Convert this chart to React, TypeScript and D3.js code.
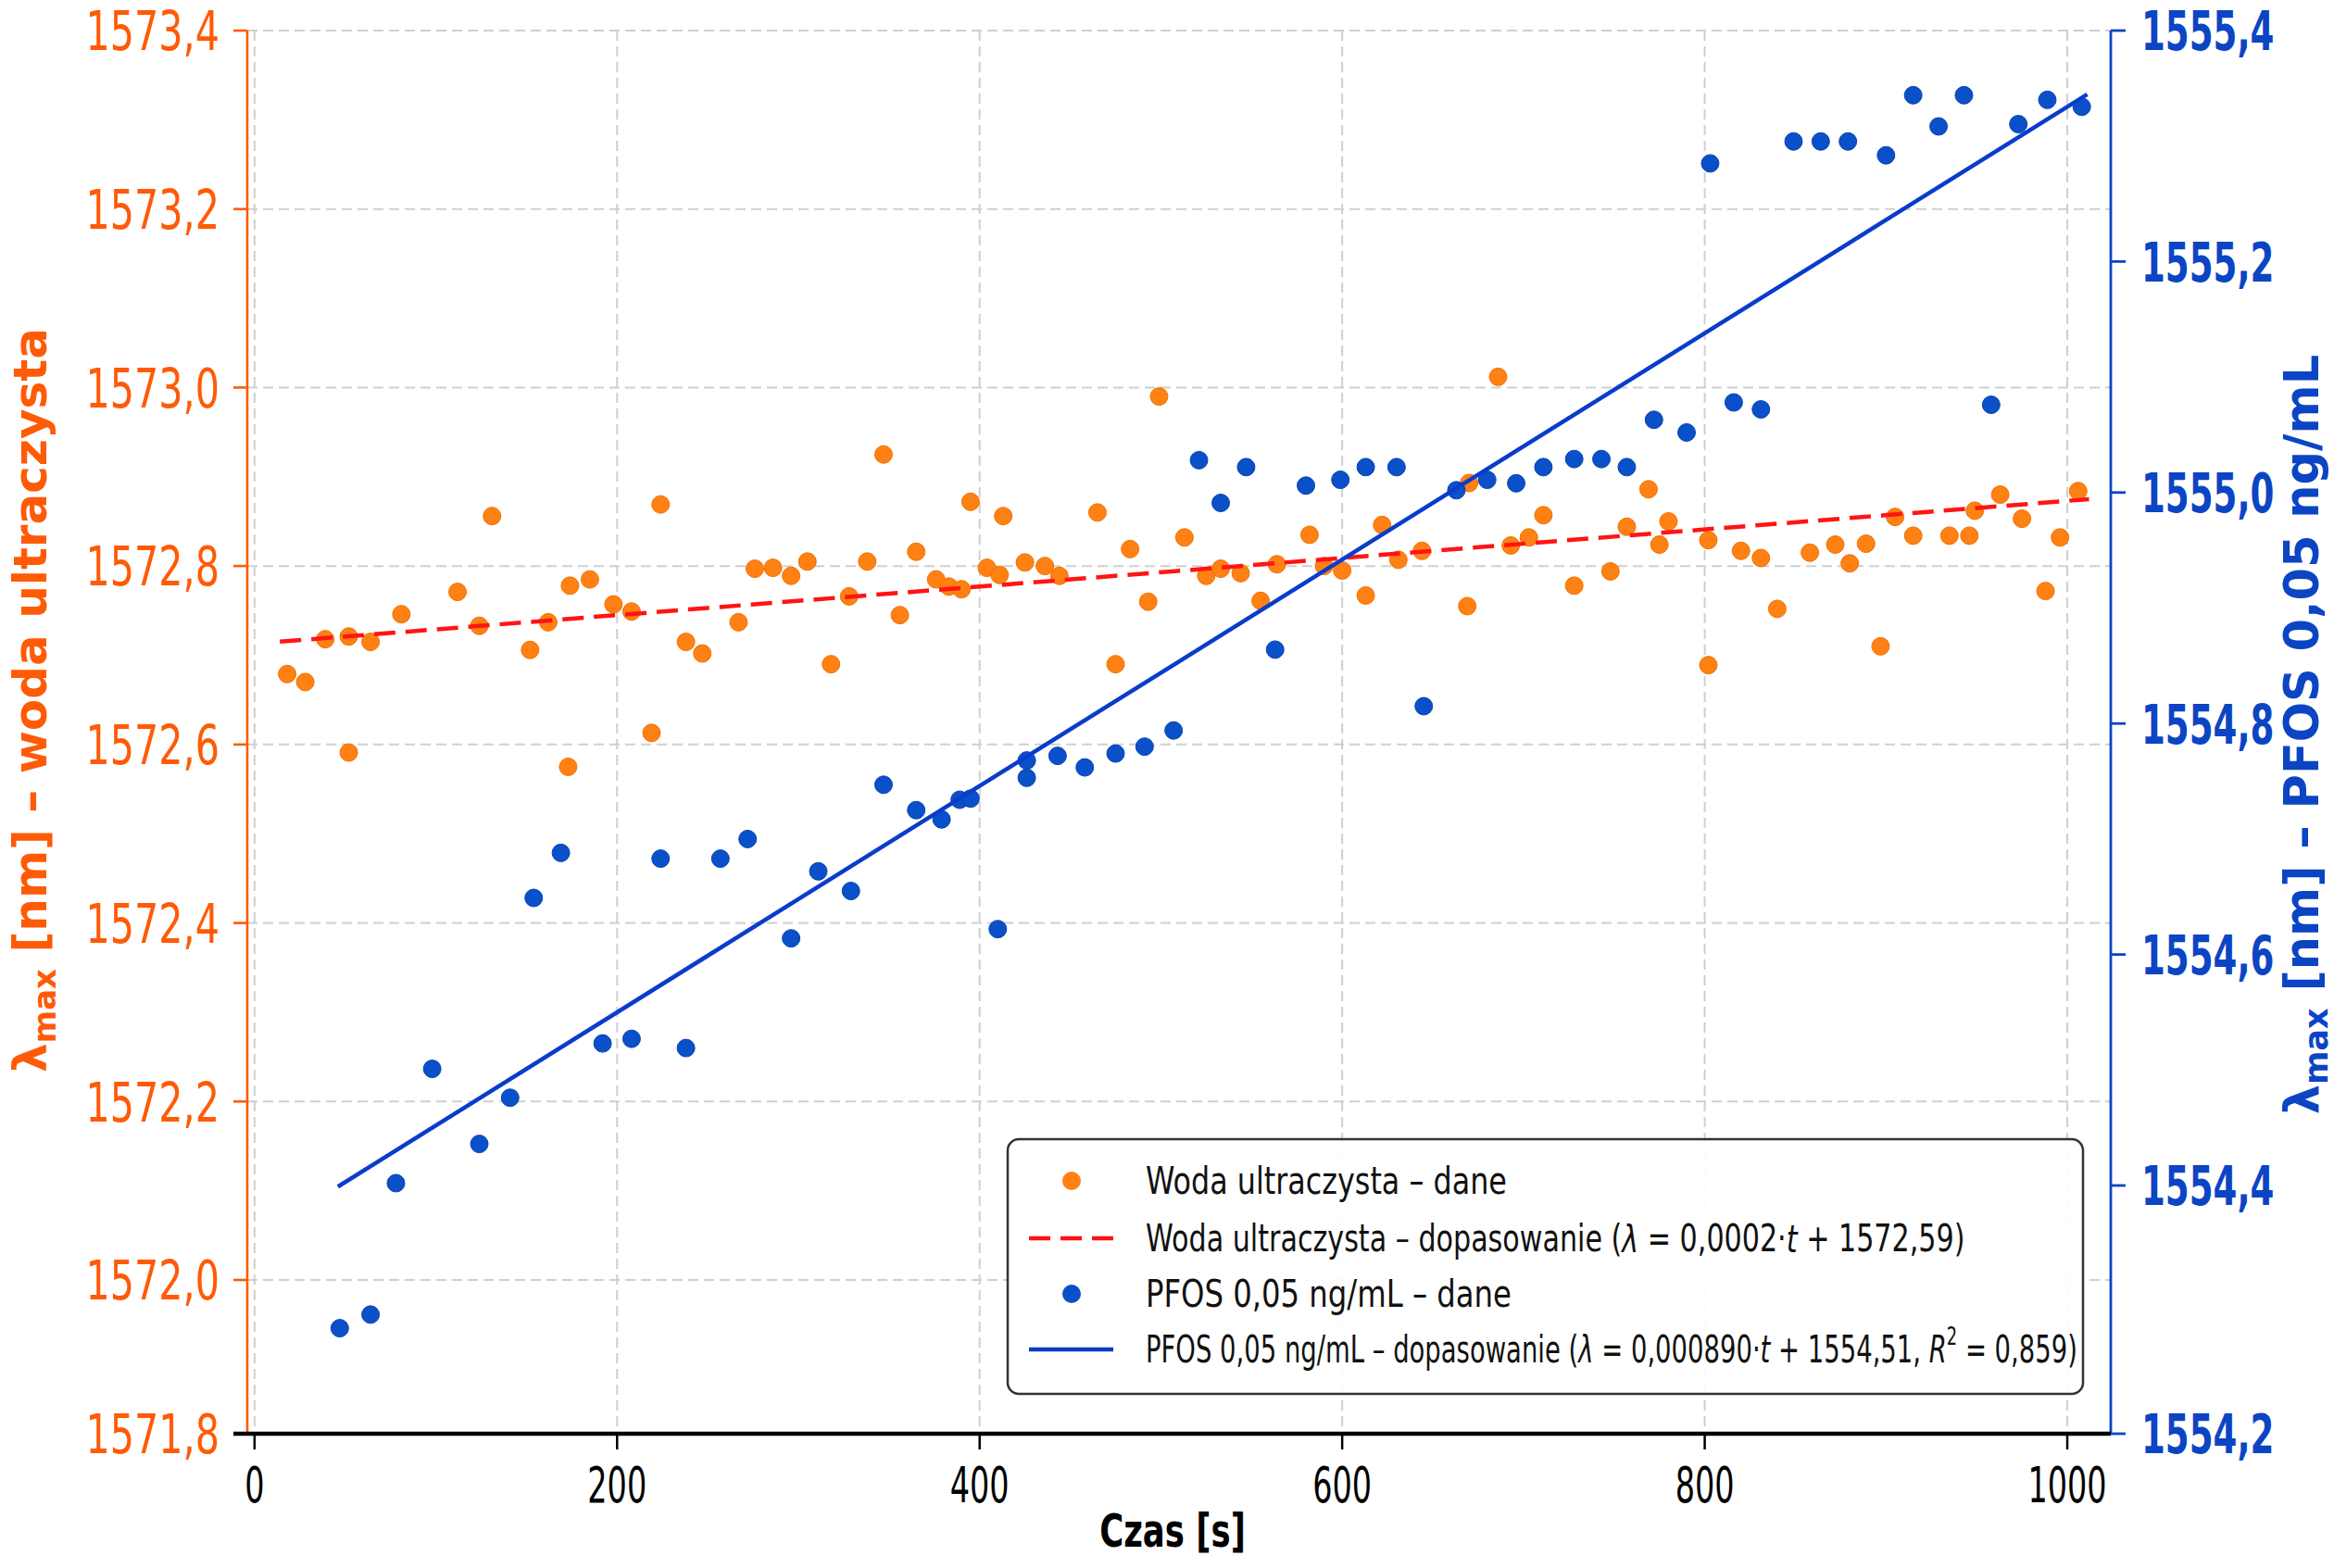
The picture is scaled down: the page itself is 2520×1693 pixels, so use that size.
import {useLayoutEffect, useRef, useState} from "react";
import * as d3 from "d3";

// czas [s] i lambda_max [nm] – woda ultraczysta
const waterTime = [18, 28, 39, 52, 52, 64, 81, 112, 124, 131, 152, 162, 173, 174, 185, 198, 208, 219, 224, 238, 247,
  267, 276, 286, 296, 305, 318, 328, 338, 347, 356, 365, 376, 383, 390, 395, 404, 411, 413, 425, 436, 444, 465, 475,
  483, 493, 499, 513, 525, 533, 544, 555, 564, 582, 590, 600, 613, 622, 631, 644, 669, 670, 686, 693, 703, 711, 728,
  748, 757, 769, 775, 780, 802, 802, 820, 831, 840, 858, 872, 880, 889, 897, 905, 915, 935, 946, 949, 963, 975, 988,
  996, 1006];
const waterLambda = [1572.679, 1572.670, 1572.718, 1572.721, 1572.591, 1572.715, 1572.746, 1572.771, 1572.733,
  1572.856, 1572.706, 1572.737, 1572.575, 1572.778, 1572.785, 1572.757, 1572.749, 1572.613, 1572.869, 1572.715,
  1572.702, 1572.737, 1572.797, 1572.798, 1572.789, 1572.805, 1572.690, 1572.766, 1572.805, 1572.925, 1572.745,
  1572.816, 1572.785, 1572.777, 1572.774, 1572.872, 1572.798, 1572.790, 1572.856, 1572.804, 1572.800, 1572.789,
  1572.860, 1572.690, 1572.819, 1572.760, 1572.990, 1572.832, 1572.789, 1572.797, 1572.792, 1572.761, 1572.802,
  1572.835, 1572.800, 1572.795, 1572.767, 1572.846, 1572.807, 1572.817, 1572.755, 1572.893, 1573.012, 1572.823,
  1572.832, 1572.857, 1572.778, 1572.794, 1572.844, 1572.886, 1572.824, 1572.850, 1572.689, 1572.829, 1572.817,
  1572.809, 1572.752, 1572.815, 1572.824, 1572.803, 1572.825, 1572.710, 1572.855, 1572.834, 1572.834, 1572.834,
  1572.862, 1572.880, 1572.853, 1572.772, 1572.832, 1572.884];

// czas [s] i lambda_max [nm] – PFOS 0,05 ng/mL
const pfosTime = [47, 64, 78, 98, 124, 141, 154, 169, 192, 208, 224, 238, 257, 272, 296, 311, 329, 347, 365, 379,
  389, 395, 410, 426, 426, 443, 458, 475, 491, 507, 521, 533, 547, 563, 580, 599, 613, 630, 645, 663, 680, 696, 711,
  728, 743, 757, 772, 790, 803, 816, 831, 849, 864, 879, 900, 915, 929, 943, 958, 973, 989, 1008];
const pfosLambda = [1554.285, 1554.296, 1554.402, 1554.501, 1554.436, 1554.476, 1554.649, 1554.688, 1554.523,
  1554.527, 1554.683, 1554.519, 1554.683, 1554.700, 1554.614, 1554.672, 1554.655, 1554.747, 1554.725, 1554.717,
  1554.734, 1554.735, 1554.622, 1554.768, 1554.753, 1554.772, 1554.762, 1554.774, 1554.780, 1554.794, 1555.028,
  1554.991, 1555.022, 1554.864, 1555.006, 1555.011, 1555.022, 1555.022, 1554.815, 1555.002, 1555.011, 1555.008,
  1555.022, 1555.029, 1555.029, 1555.022, 1555.063, 1555.052, 1555.285, 1555.078, 1555.072, 1555.304, 1555.304,
  1555.304, 1555.292, 1555.344, 1555.317, 1555.344, 1555.076, 1555.319, 1555.340, 1555.334];

// proste dopasowania
const waterFitSlope = 0.00016;
const waterFitIntercept = 1572.713;
const waterFitSpan = [14, 1012];
const pfosFitSlope = 0.00098;
const pfosFitIntercept = 1554.354;
const pfosFitSpan = [46, 1011];

const timeTicks = [0, 200, 400, 600, 800, 1000];
const waterTicks = [1571.8, 1572.0, 1572.2, 1572.4, 1572.6, 1572.8, 1573.0, 1573.2, 1573.4];
const pfosTicks = [1554.2, 1554.4, 1554.6, 1554.8, 1555.0, 1555.2, 1555.4];

const ORANGE = "#ff5a06";
const BLUE = "#0b45c4";
const DOT_ORANGE = "#ff8113";
const DOT_BLUE = "#0a50c8";
const FONT = "'DejaVu Sans', sans-serif";

const fmt = (v: number) => v.toFixed(1).replace(".", ",");

// tekst zwężony w poziomie (oryginał ma wąski krój)
const Narrow = ({x, y, sx, anchor, children, ...rest}: any) => (
  <text transform={`translate(${x},${y}) scale(${sx},1)`} textAnchor={anchor || "start"}
    fontFamily={FONT} {...rest}>{children}</text>
);

// wiersz legendy: zwężony tak, żeby miał zadaną szerokość
const FitText = ({x, y, target, children}: any) => {
  const ref = useRef<SVGTextElement>(null);
  const [sx, setSx] = useState(1);
  useLayoutEffect(() => {
    if (ref.current) {
      const w = ref.current.getBBox().width;
      if (w > 0) setSx(target / w);
    }
  }, [target]);
  return (
    <text ref={ref} transform={`translate(${x},${y}) scale(${sx},1)`} dominantBaseline="central">
      {children}
    </text>
  );
};

const App = () => {
  const width = 2520;
  const height = 1693;
  const left = 267, right = 2279, top = 33, bottom = 1548;

  const x = d3.scaleLinear().domain([-4, 1024]).range([left, right]);
  // skala jak na oryginale (dolny przedział jest węższy)
  const yL = d3.scaleLinear().domain([1571.8, 1572.0, 1573.4]).range([bottom, 1382, top]);
  const yR = d3.scaleLinear().domain([1554.2, 1554.4, 1555.4]).range([bottom, 1280, top]);

  const waterFitLine = d3.line<number>()
    .x((t) => x(t))
    .y((t) => yL(waterFitIntercept + waterFitSlope * t));
  const pfosFitLine = d3.line<number>()
    .x((t) => x(t))
    .y((t) => yR(pfosFitIntercept + pfosFitSlope * t));

  const lx = 1088, ly = 1230, lw = 1161, lh = 275;
  const rows = [1275, 1337, 1397, 1457];
  const rowWidths = [390, 885, 395, 1006];

  return (
    <svg width={width} height={height} style={{position: "absolute", left: 0, top: 0, background: "#fff"}}>
      {/* siatka */}
      {waterTicks.slice(1).map((v) => (
        <line key={"gy" + v} x1={left} x2={right} y1={yL(v)} y2={yL(v)}
          stroke="#cfcfcf" strokeWidth={2} strokeDasharray="11 6" />
      ))}
      {timeTicks.map((t) => (
        <line key={"gx" + t} x1={x(t)} x2={x(t)} y1={top} y2={bottom}
          stroke="#cfcfcf" strokeWidth={2} strokeDasharray="11 6" />
      ))}

      {/* woda ultraczysta */}
      {waterTime.map((t, i) => (
        <circle key={"w" + i} cx={x(t)} cy={yL(waterLambda[i])} r={9.5}
          fill={DOT_ORANGE} stroke="#f07000" strokeWidth={1} />
      ))}
      <path d={waterFitLine(waterFitSpan) || ""} fill="none" stroke="#ff1414"
        strokeWidth={4.5} strokeDasharray="23 11" />

      {/* PFOS */}
      {pfosTime.map((t, i) => (
        <circle key={"p" + i} cx={x(t)} cy={yR(pfosLambda[i])} r={9.5}
          fill={DOT_BLUE} stroke="#0842b0" strokeWidth={1} />
      ))}
      <path d={pfosFitLine(pfosFitSpan) || ""} fill="none" stroke="#0a3ccc" strokeWidth={4.5} />

      {/* osie */}
      <line x1={left} x2={left} y1={top} y2={bottom} stroke={ORANGE} strokeWidth={2.6} />
      <line x1={right} x2={right} y1={top} y2={bottom} stroke={BLUE} strokeWidth={2.8} />
      {waterTicks.map((v) => (
        <g key={"lt" + v}>
          <line x1={left - 15} x2={left} y1={yL(v)} y2={yL(v)} stroke={ORANGE} strokeWidth={2.6} />
          <Narrow x={237} y={yL(v) + 1} sx={0.7} anchor="end" dominantBaseline="central"
            fontSize={59} fill={ORANGE}>{fmt(v)}</Narrow>
        </g>
      ))}
      {pfosTicks.map((v) => (
        <g key={"rt" + v}>
          <line x1={right} x2={right + 16} y1={yR(v)} y2={yR(v)} stroke={BLUE} strokeWidth={2.8} />
          <Narrow x={2312} y={yR(v) + 1} sx={0.63} dominantBaseline="central"
            fontWeight="bold" fontSize={59} fill={BLUE}>{fmt(v)}</Narrow>
        </g>
      ))}
      <line x1={252} x2={right} y1={bottom} y2={bottom} stroke="#000" strokeWidth={4.5} />
      {timeTicks.map((t) => (
        <g key={"xt" + t}>
          <line x1={x(t)} x2={x(t)} y1={bottom} y2={bottom + 17} stroke="#000" strokeWidth={2.5} />
          <Narrow x={x(t)} y={1603} sx={0.62} anchor="middle" dominantBaseline="central"
            fontSize={54} fill="#000">{t}</Narrow>
        </g>
      ))}

      {/* opisy osi */}
      <Narrow x={1266} y={1670} sx={0.71} anchor="middle" fontWeight="bold"
        fontSize={50} fill="#000">Czas [s]</Narrow>
      <text transform="translate(50,756) rotate(-90)" textAnchor="middle" fontFamily={FONT}
        fontWeight="bold" fontSize={50} fill={ORANGE}>
        λ<tspan fontSize={34} dy={10}>max</tspan><tspan dy={-10}> [nm] – woda ultraczysta</tspan>
      </text>
      <text transform="translate(2503,793) rotate(-90)" textAnchor="middle" fontFamily={FONT}
        fontWeight="bold" fontSize={51} fill={BLUE}>
        λ<tspan fontSize={35} dy={10}>max</tspan><tspan dy={-10}> [nm] – PFOS 0,05 ng/mL</tspan>
      </text>

      {/* legenda */}
      <rect x={lx} y={ly} width={lw} height={lh} rx={12} fill="#fff" fillOpacity={0.92}
        stroke="#333" strokeWidth={2.5} />
      <circle cx={1157} cy={rows[0]} r={10} fill={DOT_ORANGE} />
      <line x1={1111} x2={1202} y1={rows[1]} y2={rows[1]} stroke="#ff1414" strokeWidth={4.5}
        strokeDasharray="23 11" />
      <circle cx={1157} cy={rows[2]} r={10} fill={DOT_BLUE} />
      <line x1={1111} x2={1202} y1={rows[3]} y2={rows[3]} stroke="#0a3ccc" strokeWidth={4.5} />
      <g fontFamily={FONT} fontSize={40} fill="#111">
        <FitText x={1237} y={rows[0]} target={rowWidths[0]}>Woda ultraczysta – dane</FitText>
        <FitText x={1237} y={rows[1]} target={rowWidths[1]}>
          Woda ultraczysta – dopasowanie (<tspan fontStyle="italic">λ</tspan> = 0,0002·<tspan fontStyle="italic">t</tspan> + 1572,59)
        </FitText>
        <FitText x={1237} y={rows[2]} target={rowWidths[2]}>PFOS 0,05 ng/mL – dane</FitText>
        <FitText x={1237} y={rows[3]} target={rowWidths[3]}>
          PFOS 0,05 ng/mL – dopasowanie (<tspan fontStyle="italic">λ</tspan> = 0,000890·<tspan fontStyle="italic">t</tspan> + 1554,51, <tspan fontStyle="italic">R</tspan><tspan fontSize={26} dy={-14}>2</tspan><tspan dy={14}> = 0,859)</tspan>
        </FitText>
      </g>
    </svg>
  );
};

export default App;
